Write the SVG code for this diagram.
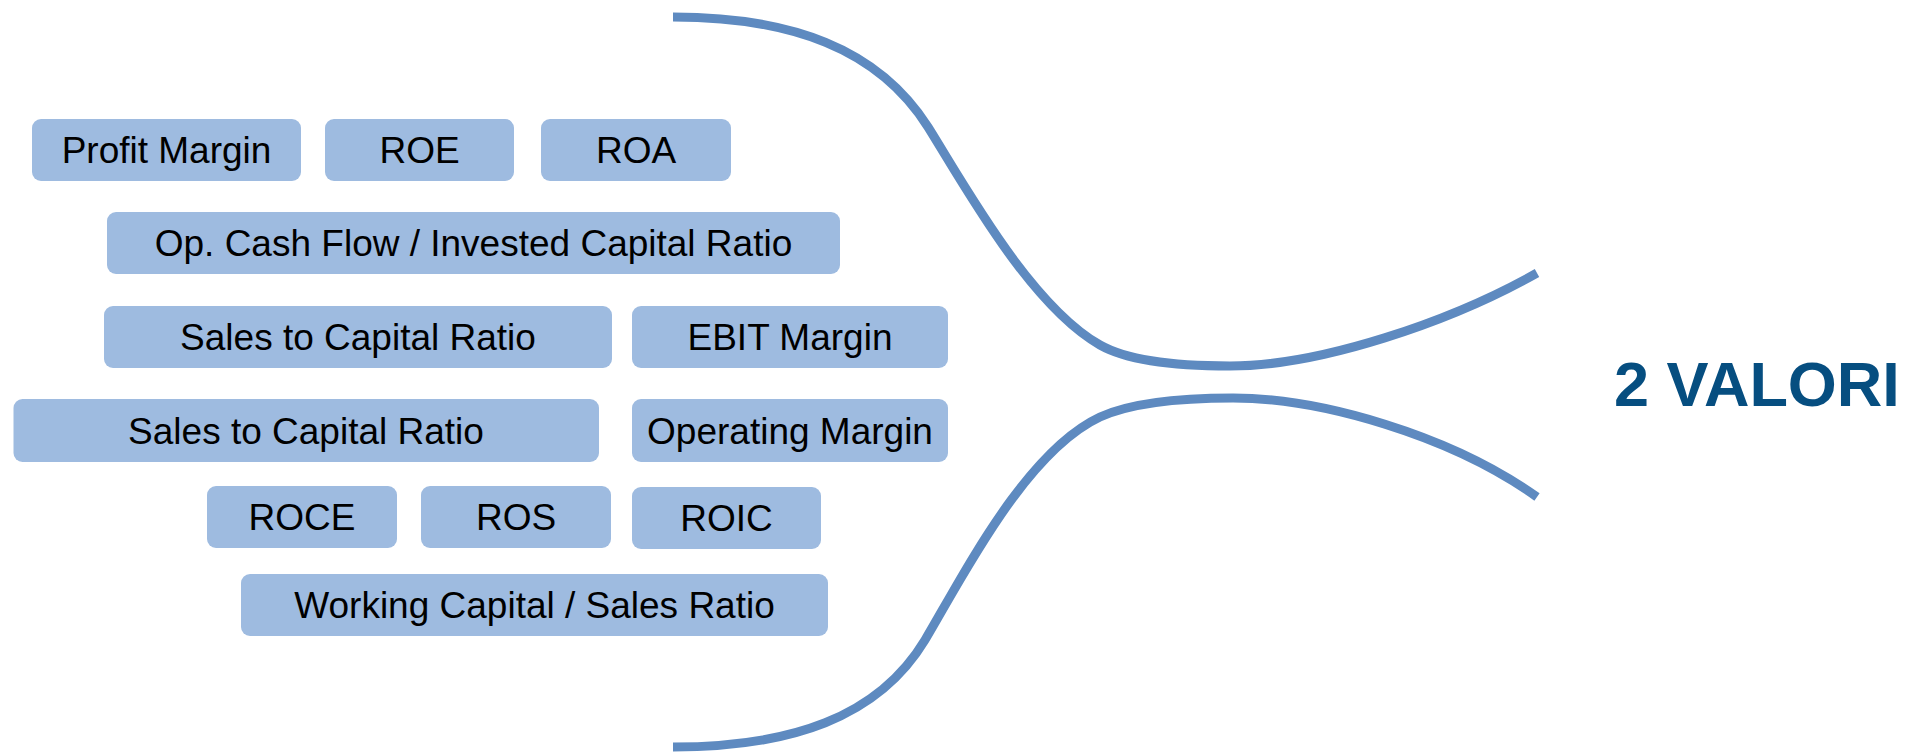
<svg xmlns="http://www.w3.org/2000/svg" width="1919" height="756" viewBox="0 0 1919 756">
<style>
.box{fill:#9ebbe0;}
.lbl{font-family:"Liberation Sans",Arial,sans-serif;font-size:37px;fill:#000;text-anchor:middle;}
.curve{fill:none;stroke:#5e8ac0;stroke-width:9;stroke-linecap:butt;}
.title{font-family:"Liberation Sans",Arial,sans-serif;font-size:63px;font-weight:bold;fill:#064e80;}
</style>
<rect width="1919" height="756" fill="#fff"/>
<g id="connectors">
<path class="curve" d="M673,17 C790,17 878,48 928,127 C965,186 1030,305 1100,345 C1130,362 1180,366 1230,366 C1320,366 1450,322 1537,273"/>
<path class="curve" d="M673,747 C790,747 878,718 925,640 C962,578 1025,452 1100,417 C1135,401 1190,398 1233,398 C1320,398 1450,435 1537,497"/>
</g>
<g id="n-profit-margin"><rect class="box" x="32" y="119" width="269" height="62" rx="9"/><text class="lbl" x="166.5" y="163">Profit Margin</text></g>
<g id="n-roe"><rect class="box" x="325" y="119" width="189" height="62" rx="9"/><text class="lbl" x="419.5" y="163">ROE</text></g>
<g id="n-roa"><rect class="box" x="541" y="119" width="190" height="62" rx="9"/><text class="lbl" x="636" y="163">ROA</text></g>
<g id="n-opcf"><rect class="box" x="107" y="212" width="733" height="62" rx="9"/><text class="lbl" x="473.5" y="256">Op. Cash Flow / Invested Capital Ratio</text></g>
<g id="n-sales1"><rect class="box" x="104" y="306" width="508" height="62" rx="9"/><text class="lbl" x="358" y="350">Sales to Capital Ratio</text></g>
<g id="n-ebit"><rect class="box" x="632" y="306" width="316" height="62" rx="9"/><text class="lbl" x="790" y="350">EBIT Margin</text></g>
<g id="n-sales2"><rect class="box" x="13.5" y="399" width="585.5" height="63" rx="9"/><text class="lbl" x="306" y="443.5">Sales to Capital Ratio</text></g>
<g id="n-opmargin"><rect class="box" x="632" y="399" width="316" height="63" rx="9"/><text class="lbl" x="790" y="443.5">Operating Margin</text></g>
<g id="n-roce"><rect class="box" x="207" y="486" width="190" height="62" rx="9"/><text class="lbl" x="302" y="530">ROCE</text></g>
<g id="n-ros"><rect class="box" x="421" y="486" width="190" height="62" rx="9"/><text class="lbl" x="516" y="530">ROS</text></g>
<g id="n-roic"><rect class="box" x="632" y="487" width="189" height="62" rx="9"/><text class="lbl" x="726.5" y="531">ROIC</text></g>
<g id="n-wc"><rect class="box" x="241" y="574" width="587" height="62" rx="9"/><text class="lbl" x="534.5" y="618">Working Capital / Sales Ratio</text></g>
<g id="n-valori"><text class="title" x="1614" y="406">2 VALORI</text></g>
</svg>
